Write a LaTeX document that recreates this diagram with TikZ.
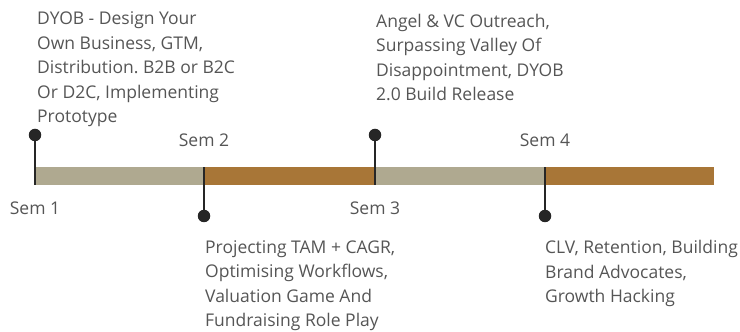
\documentclass[tikz,border=0pt]{standalone}
\usepackage{fontspec}
\setmainfont{Open Sans}
\frenchspacing
\definecolor{barA}{HTML}{AFA990}
\definecolor{barB}{HTML}{A87637}
\definecolor{txt}{HTML}{555555}
\definecolor{pin}{HTML}{262626}
\begin{document}
\begin{tikzpicture}[x=1pt,y=1pt,
  pindot/.style={circle,fill=pin,inner sep=0pt,minimum size=12.5pt},
  pinline/.style={draw=pin,line width=1.4pt},
  desc/.style={anchor=base west,inner sep=0pt,align=left,text=txt,font=\fontsize{17.5}{24.5}\selectfont\frenchspacing},
  semlbl/.style={anchor=base,inner sep=0pt,text=txt,font=\fontsize{17.5}{24.5}\selectfont}]
\useasboundingbox (0,0) rectangle (740,332);
% bar segments
\fill[barA] (35,147) rectangle (204,165);
\fill[barB] (204,147) rectangle (375,165);
\fill[barA] (375,147) rectangle (545,165);
\fill[barB] (545,147) rectangle (714,165);
% coordinates on bar
\coordinate (b1) at (35,147);
\coordinate (b2) at (204,165);
\coordinate (b3) at (375,147);
\coordinate (b4) at (545,165);
% dots
\node[pindot] (d1) at (35,197) {};
\node[pindot] (d2) at (204,116) {};
\node[pindot] (d3) at (375,197) {};
\node[pindot] (d4) at (545,116) {};
\draw[pinline] (d1.center) -- (b1);
\draw[pinline] (d2.center) -- (b2);
\draw[pinline] (d3.center) -- (b3);
\draw[pinline] (d4.center) -- (b4);
% sem labels
\node[semlbl] (s1) at (35,117) {Sem 1};
\node[semlbl] (s2) at (204,185) {Sem 2};
\node[semlbl] (s3) at (375,117) {Sem 3};
\node[semlbl] (s4) at (545,185) {Sem 4};
% descriptions (anchored at the baseline of the last line)
\node[desc] (t1) at (37,209) {DYOB - Design Your\\Own Business, GTM,\\Distribution. B2B or B2C\\Or D2C, Implementing\\Prototype};
\node[desc] (t3) at (376,231) {Angel \& VC Outreach,\\Surpassing Valley Of\\Disappointment, DYOB\\2.0 Build Release};
\node[desc] (t2) at (205,5) {Projecting TAM + CAGR,\\Optimising Workflows,\\Valuation Game And\\Fundraising Role Play};
\node[desc] (t4) at (545,29) {CLV, Retention, Building\\Brand Advocates,\\Growth Hacking};
\end{tikzpicture}
\end{document}
